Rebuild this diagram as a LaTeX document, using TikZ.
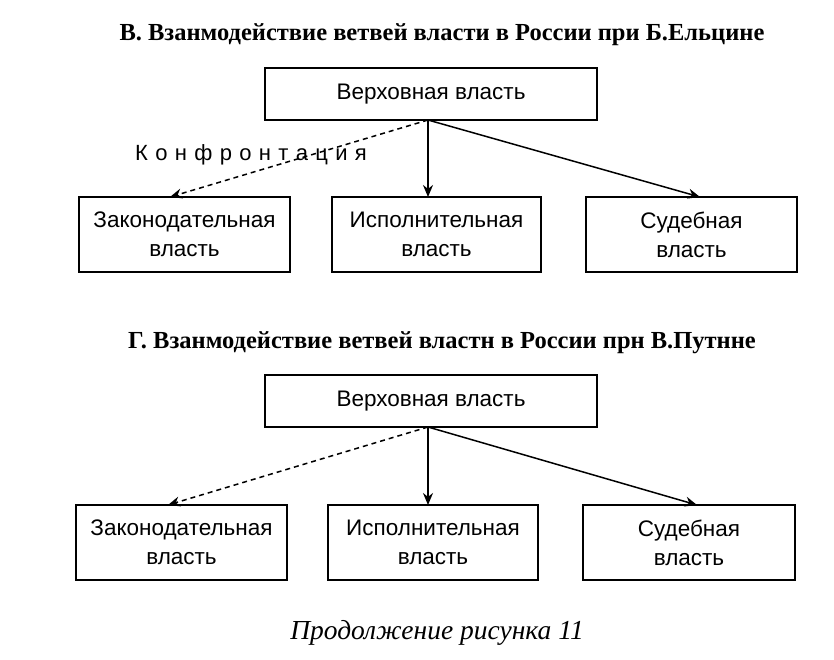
\documentclass[tikz,border=0pt]{standalone}
\usepackage{fontspec}
\setmainfont{Liberation Serif}
\newfontfamily\boxfont{Liberation Sans}
\usetikzlibrary{arrows.meta}
\begin{document}
\begin{tikzpicture}[x=1pt,y=-1pt,
  bx/.style={draw,line width=1.5pt,inner sep=0pt,align=center,font=\boxfont\fontsize{22.5}{29}\selectfont},
  ttl/.style={font=\bfseries\fontsize{24.5}{28}\selectfont},
  arr/.style={line width=1.5pt,-{Stealth[length=12pt,width=10pt]}},
  dsh/.style={dash pattern=on 5pt off 4pt}]
\useasboundingbox (0,0) rectangle (834,660);
\node[ttl] (t1) at (442,35) {В. Взанмодействие ветвей власти в России при Б.Ельцине};
\node[bx,minimum width=332,minimum height=52] (v1) at (431,94) {Верховная власть};
\node[bx,minimum width=211,minimum height=75] (z1) at (184.5,234.5) {Законодательная\\власть};
\node[bx,minimum width=209,minimum height=75] (i1) at (436.5,234.5) {Исполнительная\\власть};
\node[bx,minimum width=211,minimum height=75] (s1) at (691.5,234.5) {Судебная\\власть};
\coordinate (o1) at (428,120);
\draw[arr] (o1) -- (428,197);
\draw[arr] (o1) -- (700,197);
\draw[arr,dsh] (o1) -- (170,197);
\node[font=\boxfont\fontsize{22}{26}\selectfont] (k) at (251,155) {К\,\,о\,\,н\,\,ф\,\,р\,\,о\,\,н\,\,т\,\,а\,\,ц\,\,и\,\,я};
\node[ttl] (t2) at (442,343) {Г. Взанмодействие ветвей властн в России прн В.Путнне};
\node[bx,minimum width=332,minimum height=52] (v2) at (431,401) {Верховная власть};
\node[bx,minimum width=211,minimum height=75] (z2) at (181.5,542.5) {Законодательная\\власть};
\node[bx,minimum width=210,minimum height=75] (i2) at (433,542.5) {Исполнительная\\власть};
\node[bx,minimum width=212,minimum height=75] (s2) at (689,542.5) {Судебная\\власть};
\coordinate (o2) at (428,427);
\draw[arr] (o2) -- (428,505);
\draw[arr] (o2) -- (697,505);
\draw[arr,dsh] (o2) -- (168,505);
\node[font=\itshape\fontsize{27.5}{30}\selectfont] (c) at (437,633) {Продолжение рисунка 11};
\end{tikzpicture}
\end{document}
